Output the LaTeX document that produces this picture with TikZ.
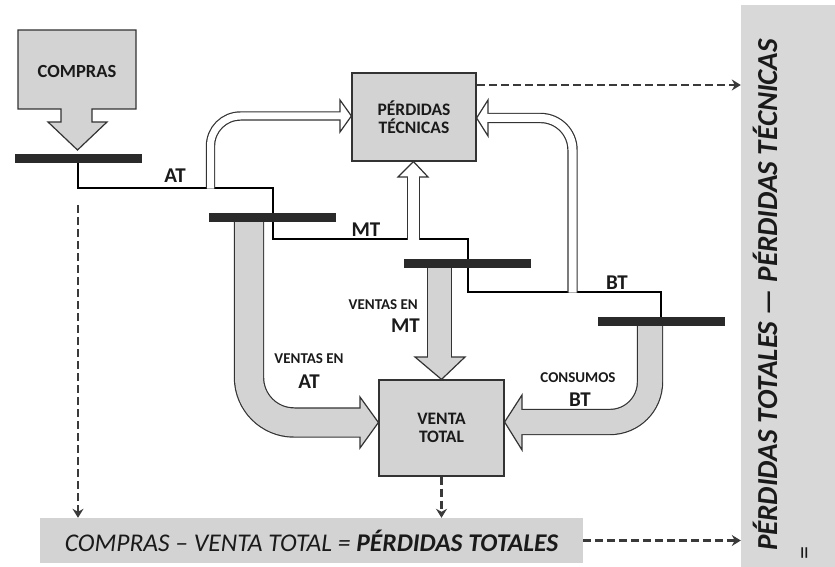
\documentclass[tikz,border=0pt]{standalone}
\usepackage{fontspec}
\setmainfont{Carlito}
\usetikzlibrary{arrows.meta}
\definecolor{boxgray}{HTML}{D3D3D3}
\definecolor{panelgray}{HTML}{D8D8D8}
\definecolor{edgec}{HTML}{333333}
\definecolor{barc}{HTML}{2A2A2A}
\definecolor{dashc}{HTML}{3A3A3A}
\definecolor{txt}{HTML}{1A1A1A}
\begin{document}
\begin{tikzpicture}[x=1pt,y=-1pt,
  box/.style={draw=edgec,line width=1.2pt,fill=boxgray,align=center,inner sep=0pt,text=txt,
    font=\fontsize{17.5}{20}\selectfont\bfseries},
  busbar/.style={fill=barc,inner sep=0pt,minimum width=127pt,minimum height=9pt},
  net/.style={line width=1.4pt,black},
  lbl/.style={font=\fontsize{21}{23}\selectfont\bfseries,inner sep=0pt,text=txt},
  smalllbl/.style={font=\fontsize{15}{18}\selectfont\bfseries,inner sep=0pt,text=txt},
  dasharrow/.style={draw=dashc,line width=2.2pt,dash pattern=on 8pt off 4pt,
    -{Stealth[length=9pt,width=11pt,inset=3pt]}},
  headstyle/.style={draw=edgec,line width=1.2pt},
]
\useasboundingbox (0,0) rectangle (835,567);

% ---------- boxes ----------
\node[box,minimum width=124pt,minimum height=88pt] (pt) at (414,117) {PÉRDIDAS\\[-2pt]TÉCNICAS};
\node[box,minimum width=125pt,minimum height=96pt] (vt) at (441.5,428) {VENTA\\[-2pt]TOTAL};
\node[fill=boxgray,minimum width=543pt,minimum height=45pt,inner sep=0pt,text=txt,
  font=\fontsize{25.5}{28}\selectfont\itshape] (formula) at (311.5,540.5)
  {COMPRAS -- VENTA TOTAL = \textbf{PÉRDIDAS TOTALES}};
\node[fill=panelgray,minimum width=94pt,minimum height=562pt,inner sep=0pt] (panel) at (788,286) {};

% ---------- COMPRAS block arrow ----------
\filldraw[fill=boxgray,draw=edgec,line width=1.2pt]
  (18,30) -- (136,30) -- (136,109) -- (92,109) -- (92,122) -- (107,122) -- (77.5,150)
  -- (48,122) -- (61,122) -- (61,109) -- (18,109) -- cycle;
\node[lbl,font=\fontsize{18.5}{20}\selectfont\bfseries] (compras) at (77,71) {COMPRAS};

% ---------- network line ----------
\coordinate (n0) at (78,158);
\draw[net] (n0) -- (78,188) -- (273,188) -- (273,239) -- (468,239) -- (468,292) -- (661,292) -- (661,321);

% ---------- hollow arrows to PERDIDAS TECNICAS ----------
% from AT
\draw[edgec,line width=9.4pt,rounded corners=30pt] (210.5,188.7) |- (340,116);
\filldraw[fill=white,headstyle] (340,100) -- (pt.west |- 0,116) -- (340,132) -- cycle;
\draw[white,line width=7pt,rounded corners=30pt] (210.5,188.7) |- (341.2,116);
% from BT
\draw[edgec,line width=10.4pt,rounded corners=32pt] (572.5,292.7) |- (488,118);
\filldraw[fill=white,headstyle] (488,100) -- (pt.east |- 0,118) -- (488,136) -- cycle;
\draw[white,line width=8pt,rounded corners=32pt] (572.5,292.7) |- (486.8,118);
% from MT
\draw[edgec,line width=13.4pt] (413.5,239.7) -- (413.5,177);
\filldraw[fill=white,headstyle] (398,177) -- (pt.south -| 413.5,0) -- (428,177) -- cycle;
\draw[white,line width=11pt] (413.5,239.7) -- (413.5,175.8);

% ---------- gray arrows to VENTA TOTAL ----------
% ventas en AT
\draw[edgec,line width=30.4pt,rounded corners=45pt] (249,221) |- (360,422.5);
\filldraw[fill=boxgray,headstyle] (360,397) -- (vt.west |- 0,422.5) -- (360,448) -- cycle;
\draw[boxgray,line width=28pt,rounded corners=45pt] (249,221) |- (361.2,422.5);
% ventas en MT
\draw[edgec,line width=25.4pt] (439.5,267) -- (439.5,357);
\filldraw[fill=boxgray,headstyle] (415,357) -- (vt.north) -- (465,357) -- cycle;
\draw[boxgray,line width=23pt] (439.5,267) -- (439.5,358.2);
% consumos BT
\draw[edgec,line width=26.4pt,rounded corners=40pt] (650,325) |- (522,422);
\filldraw[fill=boxgray,headstyle] (522,395) -- (vt.east |- 0,422) -- (522,450) -- cycle;
\draw[boxgray,line width=24pt,rounded corners=40pt] (650,325) |- (520.8,422);

% ---------- bus bars ----------
\node[busbar] (b1) at (78.5,158) {};
\node[busbar] (b2) at (272.5,217) {};
\node[busbar] (b3) at (467,263.5) {};
\node[busbar] (b4) at (661,321) {};

% ---------- labels ----------
\node[lbl] (lat) at (175,176) {AT};
\node[lbl] (lmt) at (366,230) {MT};
\node[lbl] (lbt) at (617,283) {BT};
\node[smalllbl,anchor=east] (vmt1) at (418,305) {VENTAS EN};
\node[lbl,anchor=east] (vmt2) at (420,326) {MT};
\node[smalllbl] (vat1) at (309,359) {VENTAS EN};
\node[lbl] (vat2) at (309,382) {AT};
\node[smalllbl] (cbt1) at (578,378) {CONSUMOS};
\node[lbl] (cbt2) at (580,400) {BT};

% ---------- dashed arrows ----------
\coordinate (d1s) at (78,205);
\coordinate (ptout) at (477,85);
\draw[dasharrow] (d1s) -- (formula.north -| d1s);
\draw[dasharrow] (vt.south) -- (formula.north -| vt.south);
\draw[dasharrow] (formula.east) -- (panel.west |- formula.east);
\draw[dasharrow] (ptout) -- (panel.west |- ptout);

% ---------- panel text ----------
\node[rotate=90,anchor=base,inner sep=0pt,text=txt,font=\fontsize{29}{32}\selectfont\bfseries\itshape]
  (ptxt) at (777,295) {PÉRDIDAS TOTALES --- PÉRDIDAS TÉCNICAS};
\node[rotate=90,inner sep=0pt,text=txt,font=\fontsize{26}{28}\selectfont] (eq) at (807,553) {=};
\end{tikzpicture}
\end{document}
